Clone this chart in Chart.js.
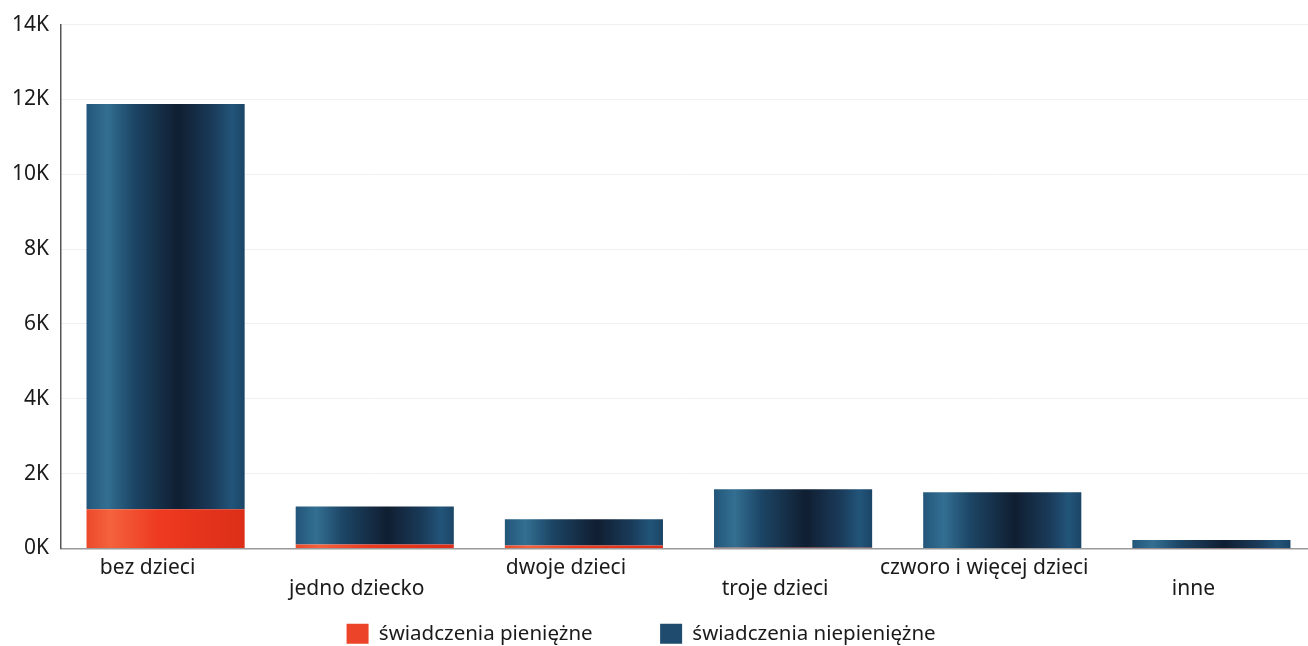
<!DOCTYPE html>
<html>
<head>
  <meta charset="UTF-8">
  <title>Świadczenia</title>
  <script src="https://cdn.jsdelivr.net/npm/chart.js"></script>
  <style>
    html, body {
      margin: 0;
      padding: 0;
      background: #ffffff;
    }
    #wrap {
      width: 1308px;
      height: 646px;
    }
  </style>
</head>
<body>
  <div id="wrap"><canvas id="chart"></canvas></div>

  <script>
    // dane
    const categories = ['bez dzieci', 'jedno dziecko', 'dwoje dzieci', 'troje dzieci', 'czworo i więcej dzieci', 'inne'];
    const pieniezne = [1050, 110, 80, 20, 15, 10];
    const niepieniezne = [10830, 1010, 700, 1560, 1485, 220];
    const yTicks = [0, 2000, 4000, 6000, 8000, 10000, 12000, 14000];

    const BAR_PCT = 0.756;
    const FONT = '"Noto Sans", "Open Sans", sans-serif';

    const blueStops = [[0, '#22567a'], [0.13, '#336f92'], [0.3, '#1c4565'], [0.58, '#101e31'], [0.8, '#1a3b5a'], [0.92, '#22557a'], [1, '#1b4566']];
    const redStops = [[0, '#ec4a2a'], [0.15, '#f4623c'], [0.45, '#ee3a20'], [1, '#dc2e18']];

    function barGradient(ctx, stops, solid) {
      const chart = ctx.chart;
      const x = chart.scales.x;
      if (ctx.type !== 'data' || !x || !chart.chartArea) return solid;
      const center = x.getPixelForValue(ctx.dataIndex);
      const half = x.width / categories.length * BAR_PCT / 2;
      const g = chart.ctx.createLinearGradient(center - half, 0, center + half, 0);
      stops.forEach(([o, c]) => g.addColorStop(o, c));
      return g;
    }

    // oś X wychodzi trochę poza prawą krawędź, jak w oryginale
    const stretchRight = {
      id: 'stretchRight',
      afterLayout(chart) {
        const extra = 8;
        const x = chart.scales.x;
        x.right += extra;
        x.width += extra;
        x.configure();
        chart.chartArea.right += extra;
        chart.chartArea.width += extra;
      }
    };

    // co druga etykieta niżej (pusta pierwsza linia)
    const labels = categories.map((c, i) => i % 2 ? ['', c] : c);

    new Chart(document.getElementById('chart'), {
      type: 'bar',
      data: {
        labels: labels,
        datasets: [
          {
            label: 'świadczenia pieniężne',
            data: pieniezne,
            backgroundColor: ctx => barGradient(ctx, redStops, '#ec4428'),
            borderWidth: 0
          },
          {
            label: 'świadczenia niepieniężne',
            data: niepieniezne,
            backgroundColor: ctx => barGradient(ctx, blueStops, '#1f4c6e'),
            borderWidth: 0
          }
        ]
      },
      options: {
        responsive: true,
        maintainAspectRatio: false,
        animation: false,
        layout: {
          padding: { top: 24, left: 5, right: 0, bottom: -8 }
        },
        datasets: {
          bar: { barPercentage: BAR_PCT, categoryPercentage: 1 }
        },
        plugins: {
          tooltip: { enabled: false },
          legend: {
            position: 'bottom',
            labels: {
              boxWidth: 22,
              boxHeight: 20,
              padding: 6,
              color: '#1a1a1a',
              font: { family: FONT, size: 20.5 },
              generateLabels: chart => chart.data.datasets.map((ds, i) => ({
                text: i === 0 ? ds.label + '\u2003\u2003\u2003' : ds.label + '\u2003\u2002',
                fillStyle: i === 0 ? '#ec4428' : '#1f4c6e',
                strokeStyle: 'transparent',
                lineWidth: 0,
                fontColor: '#1a1a1a',
                datasetIndex: i
              }))
            }
          }
        },
        scales: {
          x: {
            stacked: true,
            afterFit: s => { s.height = 69; },
            grid: { display: false, drawTicks: false },
            border: { color: '#9a9a9a', width: 1.5 },
            ticks: {
              color: '#1a1a1a',
              font: { family: FONT, size: 21, lineHeight: 1 },
              padding: 9,
              labelOffset: -18,
              maxRotation: 0,
              autoSkip: false
            }
          },
          y: {
            stacked: true,
            min: 0,
            max: 14000,
            afterFit: s => { s.width = 56; },
            afterBuildTicks: s => { s.ticks = yTicks.map(v => ({ value: v })); },
            grid: { color: 'rgba(0,0,0,0.06)', drawTicks: false },
            border: { color: '#555', width: 1.5 },
            ticks: {
              color: '#1a1a1a',
              font: { family: FONT, size: 21 },
              padding: 12,
              callback: v => (v / 1000) + 'K'
            }
          }
        }
      },
      plugins: [stretchRight]
    });
  </script>
</body>
</html>
